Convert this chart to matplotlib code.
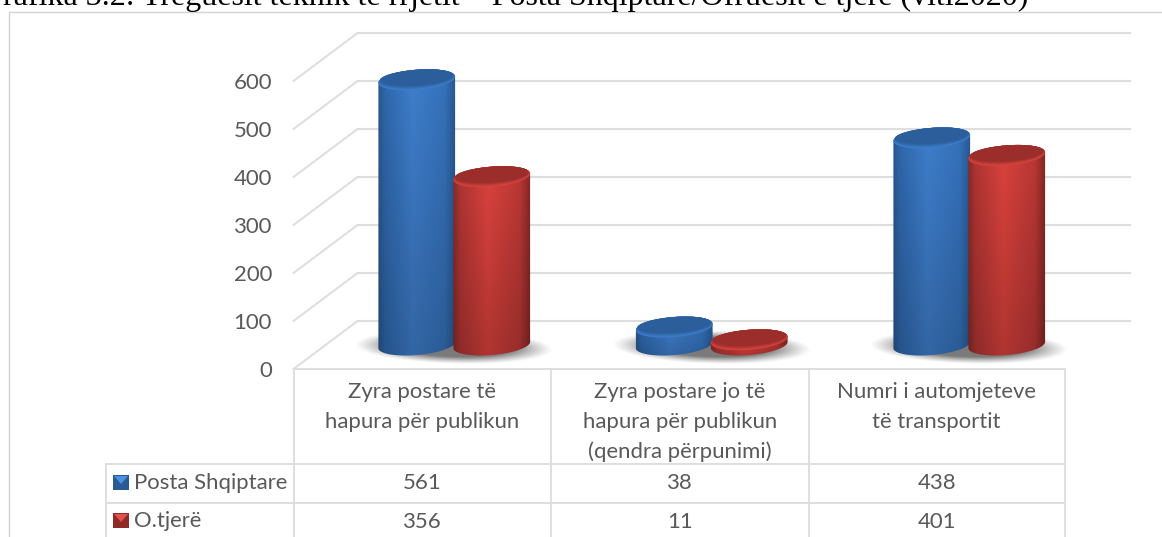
#Grafika 3.2 - cylinder chart with data table, drawn with image fills clipped to paths
import numpy as np
import matplotlib
matplotlib.use('Agg')
import matplotlib.pyplot as plt
from matplotlib.patches import Polygon, Rectangle

#data
categories = ['Zyra postare të\nhapura për publikun',
              'Zyra postare jo të\nhapura për publikun\n(qendra përpunimi)',
              'Numri i automjeteve\ntë transportit']
series_names = ['Posta Shqiptare', 'O.tjerë']
posta_values = [561, 38, 438]
tjere_values = [356, 11, 401]
y_ticks = [0, 100, 200, 300, 400, 500, 600]
title = 'Grafika 3.2: Treguesit teknik të rrjetit – Posta Shqiptare/Ofruesit e tjerë (viti2020)'

W, H = 1162, 537
grid_col = '#dedede'
text_col = '#595959'
font = 'Lato'
fs = 15.9

#pixel sizes of one category and one value unit
px_cat = 257.5
px_val = 0.48
depth_x = 64 / px_cat   #back wall offset in categories
depth_y = 100           #back wall offset in value units

fig = plt.figure(figsize=(W / 100, H / 100), dpi=100)

#overlay in pixel coords for frame, title, table
bg = fig.add_axes([0, 0, 1, 1])
bg.set_xlim(0, W)
bg.set_ylim(H, 0)
bg.axis('off')

bg.plot([8.5, 8.5, W], [H, 12, 12], color='#d4d4d4', lw=1.0)
bg.text(1028, 5.5, title, family='Liberation Serif', fontsize=23, color='black',
        ha='right', va='baseline', clip_on=False)

col_x = [106, 293.5, 551, 808.5, 1065]
row_y = [369, 464, 503, 541.5]
bg.plot([col_x[1], col_x[4]], [row_y[0], row_y[0]], color=grid_col, lw=1.4)
for y in row_y[1:]:
    bg.plot([col_x[0], col_x[4]], [y, y], color=grid_col, lw=1.4)
bg.plot([col_x[0], col_x[0]], [row_y[1], H], color=grid_col, lw=1.4)
for x in col_x[1:]:
    bg.plot([x, x], [row_y[0], H], color=grid_col, lw=1.4)

for i, cat in enumerate(categories):
    cx = (col_x[i + 1] + col_x[i + 2]) / 2
    for j, line in enumerate(cat.split('\n')):
        bg.text(cx, 392 + j * 30, line, family=font, fontsize=fs, color=text_col,
                ha='center', va='center')
    bg.text(cx, 483, str(posta_values[i]), family=font, fontsize=fs, color=text_col,
            ha='center', va='center')
    bg.text(cx, 522, str(tjere_values[i]), family=font, fontsize=fs, color=text_col,
            ha='center', va='center')

key_cols = [('#2a5a94', '#4a90e0'), ('#8e2a27', '#e0524c')]
for name, ky, (dark, light) in zip(series_names, [475, 513], key_cols):
    bg.add_patch(Rectangle((113, ky), 16, 15, fc=dark, ec='none'))
    bg.add_patch(Polygon([(114, ky + 1), (128, ky + 1), (121, ky + 9)], fc=light, ec='none'))
    bg.text(134, ky + 8, name, family=font, fontsize=fs, color=text_col, ha='left', va='center')

#main axes: x in categories, y in values on the front plane
ax = fig.add_axes([293.5 / W, (H - 369) / H, (1130 - 293.5) / W, 336 / H])
ax.patch.set_alpha(0)
xlim = (-0.5, (1130 - 293.5) / px_cat - 0.5)
ylim = (0, 700)
for s in ax.spines.values():
    s.set_visible(False)
ax.set_xticks([])
ax.set_yticks(y_ticks)
ax.tick_params(axis='y', length=0, pad=15.5, labelsize=fs, labelcolor=text_col)
for lab in ax.get_yticklabels():
    lab.set_family(font)

#walls
for v in y_ticks:
    ax.plot([-0.5, -0.5 + depth_x, xlim[1]], [v, v + depth_y, v + depth_y],
            color=grid_col, lw=1.5, solid_joinstyle='miter', clip_on=False)


def ellipse_pts(cx, cy, t):
    #tilted ellipse, sizes in pixels, centre in data coords
    a, b, ang = 38.5, 10.0, np.radians(5)
    dx = a * np.cos(t) * np.cos(ang) - b * np.sin(t) * np.sin(ang)
    dy = a * np.cos(t) * np.sin(ang) + b * np.sin(t) * np.cos(ang)
    return np.column_stack([cx + dx / px_cat, cy + dy / px_val])


def shade(stops, rows=60):
    #horizontal cylinder shading, darker towards the bottom
    xs = np.linspace(0, 1, 120)
    pos = [0, 0.10, 0.45, 0.85, 1]
    rgb = np.array([matplotlib.colors.to_rgb(c) for c in stops])
    row = np.column_stack([np.interp(xs, pos, rgb[:, k]) for k in range(3)])
    fade = np.linspace(1.0, 0.80, rows)[:, None, None]
    return row[None, :, :] * fade


def draw_shadow(cx):
    gx, gy = np.meshgrid(np.linspace(-1, 1, 200), np.linspace(-1, 1, 80))
    tilt = gy + gx * 0.15
    d = np.sqrt(gx ** 2 + tilt ** 2)
    alpha = 0.8 * np.clip((1 - d) / 0.42, 0, 1) ** 1.2
    img = np.zeros(gx.shape + (4,))
    img[..., :3] = 0.35
    img[..., 3] = alpha
    half_w = 100 / px_cat
    half_h = 17 / px_val
    yc = 46
    ax.imshow(img, extent=[cx - half_w, cx + half_w, yc - half_h, yc + half_h], origin='lower',
              aspect='auto', zorder=2, interpolation='bilinear')


def draw_cylinder(cx, value, stops, rim, cap, z):
    base_y = depth_y / 2
    top_y = base_y + value * 0.985
    lower = ellipse_pts(cx, base_y, np.linspace(np.pi, 2 * np.pi, 60))
    upper = ellipse_pts(cx, top_y, np.linspace(0, np.pi, 60))
    outline = np.vstack([lower, upper])
    half = 40 / px_cat
    im = ax.imshow(shade(stops), extent=[cx - half, cx + half, base_y - 25, top_y + 25],
                   origin='upper', aspect='auto', zorder=z, interpolation='bilinear')
    im.set_clip_path(Polygon(outline, transform=ax.transData))
    t = np.linspace(0, 2 * np.pi, 120)
    ax.add_patch(Polygon(ellipse_pts(cx, top_y, t), fc=rim, ec='none', zorder=z + 0.1))
    #top face fades from the lit rim into the darker middle
    rim_rgb = np.array(matplotlib.colors.to_rgb(rim))
    cap_rgb = np.array(matplotlib.colors.to_rgb(cap))
    for k, scale in enumerate([0.95, 0.90, 0.85, 0.80]):
        layer = ellipse_pts(cx, top_y, t)
        layer[:, 0] = cx + (layer[:, 0] - cx) * (1 - (1 - scale) * 0.2)
        layer[:, 1] = top_y + (1 - scale) * 10 / px_val + (layer[:, 1] - top_y) * scale
        mix = (k + 1) / 4
        ax.add_patch(Polygon(layer, fc=rim_rgb * (1 - mix) + cap_rgb * mix, ec='none',
                             zorder=z + 0.2 + k * 0.01))


blue_stops = ['#285488', '#2f68ad', '#3f7fcd', '#3572bb', '#27558c']
red_stops = ['#822826', '#b03533', '#dc423d', '#bb3835', '#7c2523']
bar_shift = 37.5 / px_cat   #half the distance between the two cylinders
mid = depth_x / 2

for i in range(len(categories)):
    draw_shadow(i + mid)
    draw_cylinder(i + mid - bar_shift, posta_values[i], blue_stops, '#3d7dca', '#2c5e9b', 3)
    draw_cylinder(i + mid + bar_shift, tjere_values[i], red_stops, '#d6433e', '#9b2e2a', 4)

ax.set_xlim(*xlim)
ax.set_ylim(*ylim)

fig.savefig('out.png', dpi=100)
